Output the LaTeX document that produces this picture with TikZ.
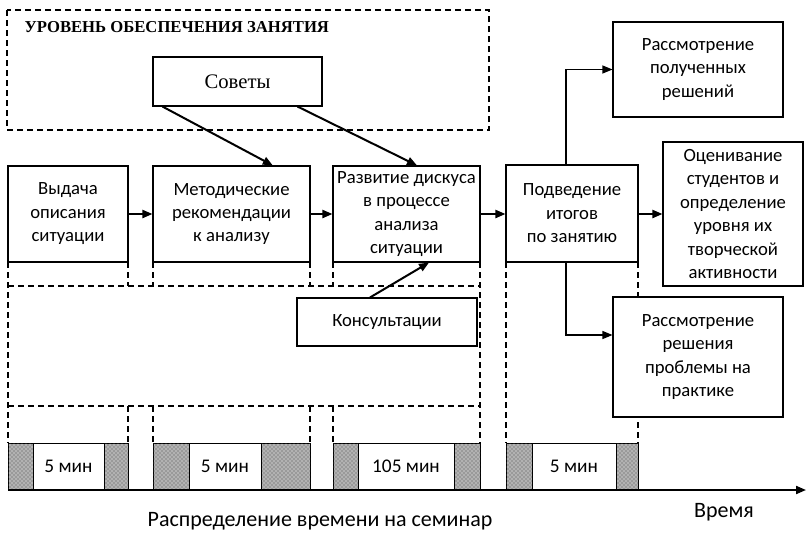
\documentclass[tikz,border=0pt]{standalone}
\usepackage{fontspec}
\setmainfont{Carlito}
\newfontfamily\timesfont{Liberation Serif}
\usepackage{tikz}
\usetikzlibrary{arrows.meta, positioning, calc, patterns}

\tikzset{
  blk/.style={draw, line width=0.8pt, fill=white, inner sep=2pt, align=center,
    font=\fontsize{14}{17.6}\selectfont},
  arr/.style={line width=1.5pt, -{Triangle[length=7.5pt,width=6pt]}},
  thin arr/.style={line width=0.8pt, -{Triangle[length=7.5pt,width=6pt]}},
  dsh/.style={line width=1.2pt, dash pattern=on 4.5pt off 3pt},
  hatch/.style={draw, line width=0.6pt, fill=gray!60,
    postaction={pattern=crosshatch dots, pattern color=black!70}},
  slot/.style={draw, line width=0.6pt, fill=white, inner sep=0pt,
    font=\fontsize{14.5}{16}\selectfont}
}

\begin{document}
\begin{tikzpicture}[x=0.75pt, y=-0.75pt]
\useasboundingbox (0,0) rectangle (806,533);
% support level
\draw[dsh] (7,10) rectangle (489,130);
\node[font=\timesfont\bfseries\fontsize{12.5}{14}\selectfont, anchor=west] (lvl)
  at (20,27) {УРОВЕНЬ ОБЕСПЕЧЕНИЯ ЗАНЯТИЯ};
\node[draw, line width=0.8pt, fill=white, minimum width=126.75pt, minimum height=36.75pt,
  font=\timesfont\fontsize{15.5}{17}\selectfont] (sov) at (237.5,81.5) {Советы};

% dashed frames under the stages
\draw[dsh] (8,262) -- (8,443) (128,262) -- (128,286) (153,262) -- (153,286)
  (310,262) -- (310,286) (333,262) -- (333,286) (480,262) -- (480,443);
\draw[dsh] (8,286) -- (480,286) (8,406) -- (480,406);
\draw[dsh] (128,406) -- (128,443) (153,406) -- (153,443)
  (310,406) -- (310,443) (333,406) -- (333,443);
\draw[dsh] (506,262) -- (506,443) (638,262) -- (638,443);

% stages
\node[blk, minimum width=90pt, minimum height=72pt] (b1) at (68,214)
  {Выдача\\описания\\ситуации};
\node[blk, minimum width=117.75pt, minimum height=72pt] (b2) at (231.5,214)
  {Методические\\рекомендации\\к анализу};
\node[blk, minimum width=110.25pt, minimum height=72pt] (b3) at (406.5,214)
  {Развитие дискуса\\в процессе\\анализа\\ситуации};
\node[blk, minimum width=99pt, minimum height=72.75pt] (b4) at (572,213.5)
  {Подведение\\итогов\\по занятию};
\node[blk, minimum width=135pt, minimum height=36pt] (kons) at (387,322) {Консультации};
\node[blk, minimum width=127.5pt, minimum height=71.25pt] (r1) at (698,69.5)
  {Рассмотрение\\полученных\\решений};
\node[blk, minimum width=105pt, minimum height=108pt] (ots) at (733,214)
  {Оценивание\\студентов и\\определение\\уровня их\\творческой\\активности};
\node[blk, minimum width=127.5pt, minimum height=90pt] (r2) at (698,357)
  {Рассмотрение\\решения\\проблемы на\\практике};

% connectors
\draw[arr] ([xshift=7.5pt]sov.south west) -- ([xshift=31pt]b2.north);
\draw[arr] ([xshift=-18.75pt]sov.south east) -- ([xshift=7.9pt]b3.north);
\draw[arr] ([xshift=-12.75pt]kons.north) -- ([xshift=16.9pt]b3.south);
\draw[arr] (b1) -- (b2);
\draw[arr] (b2) -- (b3);
\draw[arr] (b3.east) -- (b3.east -| b4.west);
\draw[arr] (b4.east |- ots.west) -- (ots.west);
\coordinate (sp) at (566,0);
\draw[thin arr] (b4.north -| sp) |- (r1.west);
\draw[thin arr] (b4.south -| sp) |- ([yshift=16.5pt]r2.west);

% time bars
\coordinate (t0) at (8,490);
\coordinate (tend) at (806,490);
\path[hatch] (8,443) rectangle (33,490);
\path[hatch] (104,443) rectangle (128,490);
\node[slot, minimum width=53.25pt, minimum height=35.25pt] (m1) at (68.5,466.5) {5 мин};
\path[hatch] (153,443) rectangle (189,490);
\path[hatch] (261,443) rectangle (310,490);
\node[slot, minimum width=54pt, minimum height=35.25pt] (m2) at (225,466.5) {5 мин};
\path[hatch] (333,443) rectangle (358,490);
\path[hatch] (454,443) rectangle (480,490);
\node[slot, minimum width=72pt, minimum height=35.25pt] (m3) at (406,466.5) {105 мин};
\path[hatch] (506,443) rectangle (532,490);
\path[hatch] (616,443) rectangle (638,490);
\node[slot, minimum width=63pt, minimum height=35.25pt] (m4) at (574,466.5) {5 мин};
\draw[arr] (t0) -- (tend);

\node[font=\fontsize{16.5}{18}\selectfont] (cap) at (320,521) {Распределение времени на семинар};
\node[font=\fontsize{16.5}{18}\selectfont] (tlab) at (724,512) {Время};
\end{tikzpicture}
\end{document}
